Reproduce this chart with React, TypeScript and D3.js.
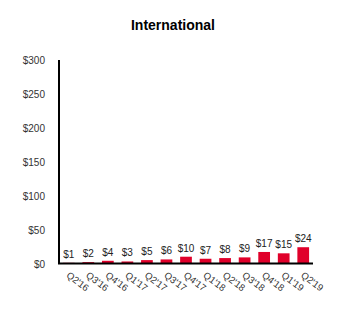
import React from "react";
import * as d3 from "d3";

const categories = ["Q2'16","Q3'16","Q4'16","Q1'17","Q2'17","Q3'17","Q4'17","Q1'18","Q2'18","Q3'18","Q4'18","Q1'19","Q2'19"];
const values = [1, 2, 4, 3, 5, 6, 10, 7, 8, 9, 17, 15, 24];
const yTicks = [0, 50, 100, 150, 200, 250, 300];

export default function App() {
  const W = 346, H = 320;
  const x = d3.scaleBand<string>().domain(categories).range([59, 313]).paddingInner(0.4).paddingOuter(0.2);
  const y = d3.scaleLinear().domain([0, 300]).range([263.5, 60]);
  const font = "'Liberation Sans', Arial, sans-serif";
  return (
    <svg width={W} height={H} style={{ position: "absolute", left: 0, top: 0, background: "#fff" }} fontFamily={font}>
      <text x={173} y={30} textAnchor="middle" fontSize={14} fontWeight="bold" fill="#000">International</text>
      {yTicks.map(t => (
        <text key={t} x={45} y={y(t) + 4} textAnchor="end" fontSize={10} fill="#333">{`$${t}`}</text>
      ))}
      {categories.map((c, i) => (
        <g key={c}>
          <rect x={x(c)} y={y(values[i])} width={x.bandwidth()} height={y(0) - y(values[i])} fill="#e0002a" />
          <text x={x(c)! + x.bandwidth() / 2} y={y(values[i]) - 5} textAnchor="middle" fontSize={10} fill="#222">{`$${values[i]}`}</text>
          <text transform={`translate(${x(c)! + x.bandwidth() / 2 - 3},${y(0) + 13}) rotate(37)`} fontSize={9.5} fill="#333">{c}</text>
        </g>
      ))}
      <line x1={59} x2={59} y1={60} y2={264} stroke="#000" strokeWidth={2} />
      <line x1={58} x2={313} y1={263.5} y2={263.5} stroke="#000" strokeWidth={2} />
    </svg>
  );
}
